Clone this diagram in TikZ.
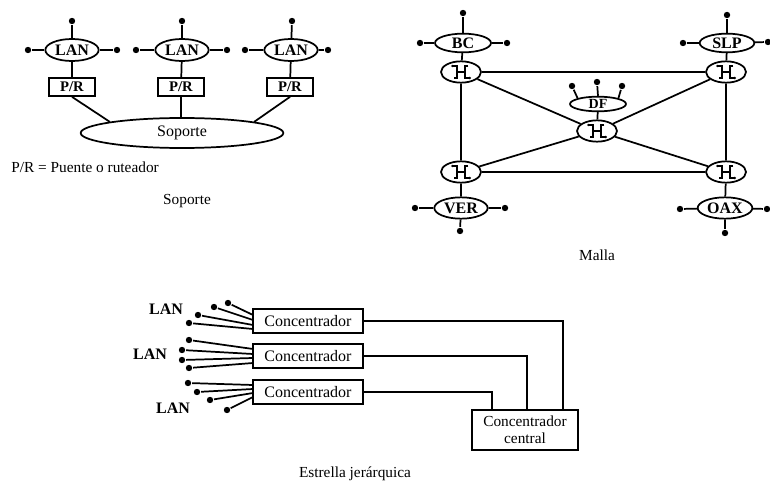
\documentclass[tikz,border=0pt]{standalone}
\usepackage{fontspec}
\setmainfont{Liberation Serif}
\usetikzlibrary{shapes.geometric}
\begin{document}
\begin{tikzpicture}[x=0.75pt,y=-0.75pt,
  every path/.style={line width=1.3pt},
  lbl/.style={font=\fontsize{11.5}{12}\selectfont},
  lanell/.style={ellipse, draw, line width=1.3pt, inner sep=0pt, font=\fontsize{12}{12}\selectfont\bfseries},
  box/.style={rectangle, draw, line width=1.3pt, inner sep=0pt, font=\fontsize{12}{12}\selectfont},
  dotn/.style={circle, fill=black, inner sep=0pt, minimum size=4.8pt},
  sw/.style={ellipse, draw, line width=1.3pt, inner sep=0pt, minimum width=30pt, minimum height=16pt,
    path picture={\begin{scope}[shift={(path picture bounding box.center)},x=1pt,y=1pt]
      \draw[line width=1.3pt] (-6.5,4.5) -- (-3,4.5) -- (-3,-4.5) -- (-5.5,-4.5)
        (-3,0) -- (3,0) (5.5,4.5) -- (3,4.5) -- (3,-4.5) -- (6.5,-4.5);
      \fill (-6.5,4.5) circle (1) (6.5,-4.5) circle (1);
    \end{scope}}}
]
\useasboundingbox (0,0) rectangle (770,481);

% ---------------- Soporte ----------------
\node[lanell, minimum width=40pt, minimum height=16.5pt] (lan1) at (72,50) {LAN};
\node[lanell, minimum width=40pt, minimum height=16.5pt] (lan2) at (182,50) {LAN};
\node[lanell, minimum width=40pt, minimum height=16.5pt] (lan3) at (291,50) {LAN};
\node[dotn] (l1t) at (72,21) {};  \node[dotn] (l1l) at (28,50) {};  \node[dotn] (l1r) at (117,50) {};
\node[dotn] (l2t) at (182,21) {}; \node[dotn] (l2l) at (136,50) {}; \node[dotn] (l2r) at (227,50) {};
\node[dotn] (l3t) at (292,21) {}; \node[dotn] (l3l) at (245,50) {}; \node[dotn] (l3r) at (328,50) {};
\draw (lan1) -- (l1t) (lan1) -- (l1l) (lan1) -- (l1r);
\draw (lan2) -- (l2t) (lan2) -- (l2l) (lan2) -- (l2r);
\draw (lan3) -- (l3t) (lan3) -- (l3l) (lan3) -- (l3r);
\node[box, minimum width=35pt, minimum height=13.5pt, font=\fontsize{11}{12}\selectfont\bfseries] (pr1) at (72,87) {P/R};
\node[box, minimum width=35pt, minimum height=13.5pt, font=\fontsize{11}{12}\selectfont\bfseries] (pr2) at (181,87) {P/R};
\node[box, minimum width=35pt, minimum height=13.5pt, font=\fontsize{11}{12}\selectfont\bfseries] (pr3) at (290,87) {P/R};
\draw (lan1) -- (pr1) (lan2) -- (pr2) (lan3) -- (pr3);
\node[ellipse, draw, inner sep=0pt, minimum width=152pt, minimum height=22.5pt, font=\fontsize{12}{12}\selectfont] (sop) at (182,133) {Soporte};
\draw (pr1.south) -- (sop.north west);
\draw (pr2.south) -- (pr2.south |- sop.north);
\draw (pr3.south) -- (sop.north east);
\node[lbl, anchor=west] (leg) at (6,167) {P/R = Puente o ruteador};
\node[lbl] (capsop) at (187,201) {Soporte};

% ---------------- Malla ----------------
\node[lanell, minimum width=42pt, minimum height=14pt] (bc) at (463,43) {BC};
\node[lanell, minimum width=41pt, minimum height=14pt] (slp) at (727,43) {SLP};
\node[lanell, minimum width=42pt, minimum height=11pt, font=\fontsize{10.5}{10}\selectfont\bfseries] (df) at (598,104) {DF};
\node[lanell, minimum width=40pt, minimum height=16pt] (ver) at (461,208) {VER};
\node[lanell, minimum width=41pt, minimum height=16pt] (oax) at (725,208) {OAX};
\node[sw] (s1) at (461,72) {};
\node[sw] (s2) at (726,72) {};
\node[sw] (s3) at (597,131) {};
\node[sw] (s4) at (461,172) {};
\node[sw] (s5) at (726,172) {};
\node[dotn] (bct) at (463,13) {};  \node[dotn] (bcl) at (420,43) {};  \node[dotn] (bcr) at (507,43) {};
\node[dotn] (slt) at (727,15) {};  \node[dotn] (sll) at (683,43) {};  \node[dotn] (slr) at (768,42) {};
\node[dotn] (dft) at (597,82) {};  \node[dotn] (dfl) at (572,86) {};  \node[dotn] (dfr) at (622,86) {};
\node[dotn] (vel) at (415,208) {}; \node[dotn] (ver2) at (505,208) {}; \node[dotn] (veb) at (460,231) {};
\node[dotn] (oal) at (680,209) {}; \node[dotn] (oar) at (767,209) {}; \node[dotn] (oab) at (725,233) {};
\draw (bc) -- (bct) (bc) -- (bcl) (bc) -- (bcr);
\draw (slp) -- (slt) (slp) -- (sll) (slp) -- (slr);
\draw (df.north) -- (dft) (df.north west) -- (dfl) (df.north east) -- (dfr);
\draw (ver) -- (vel) (ver) -- (ver2) (ver) -- (veb);
\draw (oax) -- (oal) (oax) -- (oar) (oax) -- (oab);
\draw (bc) -- (s1) (slp) -- (s2) (df) -- (s3) (s4) -- (ver) (s5) -- (oax);
\draw (s1) -- (s2) (s1) -- (s3) (s2) -- (s3) (s1) -- (s4) (s2) -- (s5)
      (s3) -- (s4) (s3) -- (s5) (s4) -- (s5);
\node[lbl] (capmalla) at (597,255) {Malla};

% ---------------- Estrella jerarquica ----------------
\node[box, minimum width=82.5pt, minimum height=18pt] (c1) at (308,321) {Concentrador};
\node[box, minimum width=82.5pt, minimum height=18pt] (c2) at (308,356) {Concentrador};
\node[box, minimum width=82.5pt, minimum height=18pt] (c3) at (308,392) {Concentrador};
\node[box, minimum width=79.5pt, minimum height=30pt, align=center, font=\fontsize{11.5}{13}\selectfont] (cc) at (525,430) {Concentrador\\central};
\draw (c1.east) -| ([xshift=28.5pt]cc.north);
\draw (c2.east) -| ([xshift=1.5pt]cc.north);
\draw (c3.east) -| ([xshift=-24.75pt]cc.north);

\node[lbl, font=\fontsize{12}{12}\selectfont\bfseries] (lanA) at (166,309) {LAN};
\node[lbl, font=\fontsize{12}{12}\selectfont\bfseries] (lanB) at (150,354) {LAN};
\node[lbl, font=\fontsize{12}{12}\selectfont\bfseries] (lanC) at (173,408) {LAN};

\node[dotn] (a1) at (228,303) {}; \node[dotn] (a2) at (214,307) {};
\node[dotn] (a3) at (198,315) {}; \node[dotn] (a4) at (189,323) {};
\coordinate (ea1) at (253,315); \coordinate (ea2) at (253,320);
\coordinate (ea3) at (253,325); \coordinate (ea4) at (253,329);
\draw (a1) -- (ea1) (a2) -- (ea2) (a3) -- (ea3) (a4) -- (ea4);

\node[dotn] (b1) at (189,340) {}; \node[dotn] (b2) at (182,350) {};
\node[dotn] (b3) at (182,360) {}; \node[dotn] (b4) at (189,368) {};
\coordinate (eb1) at (253,349); \coordinate (eb2) at (253,354);
\coordinate (eb3) at (253,358); \coordinate (eb4) at (253,363);
\draw (b1) -- (eb1) (b2) -- (eb2) (b3) -- (eb3) (b4) -- (eb4);

\node[dotn] (d1) at (188,383) {}; \node[dotn] (d2) at (197,392) {};
\node[dotn] (d3) at (210,400) {}; \node[dotn] (d4) at (227,410) {};
\coordinate (ed1) at (253,385); \coordinate (ed2) at (253,389);
\coordinate (ed3) at (253,393); \coordinate (ed4) at (253,397);
\draw (d1) -- (ed1) (d2) -- (ed2) (d3) -- (ed3) (d4) -- (ed4);

\node[lbl] (capest) at (355,474) {Estrella jerárquica};
\end{tikzpicture}
\end{document}
